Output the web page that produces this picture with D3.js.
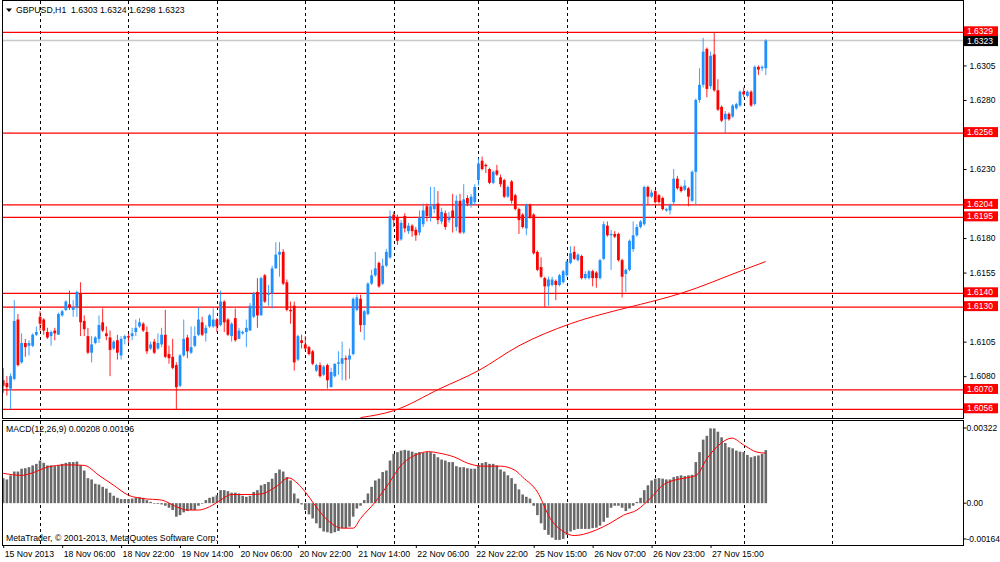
<!DOCTYPE html>
<html>
<head>
<meta charset="utf-8">
<script src="https://cdn.jsdelivr.net/npm/d3@7"></script>
<style>
  body { margin: 0; background: #fff; }
  svg { display: block; }
  text { font-family: "Liberation Sans", Arial, sans-serif; font-size: 8.7px; fill: #000; }
  .scale text { font-size: 8.5px; }
</style>
</head>
<body>
<svg id="chart" width="1000" height="562"></svg>
<script>
// GBPUSD H1, bar 0 = 15 Nov 2013 14:00, last bar = 28 Nov 06:00
const opens = [
  1.6077,1.6075,1.6071,1.6078,1.6121,1.6090,1.6104,1.6102,1.6102,1.6110,
  1.6123,1.6121,1.6112,1.6109,1.6113,1.6110,1.6124,1.6128,1.6132,1.6128,
  1.6130,1.6140,1.6120,1.6109,1.6097,1.6104,1.6107,1.6119,1.6111,1.6108,
  1.6100,1.6106,1.6095,1.6107,1.6109,1.6109,1.6112,1.6116,1.6118,1.6112,
  1.6100,1.6105,1.6100,1.6103,1.6110,1.6096,1.6094,1.6088,1.6073,1.6095,
  1.6108,1.6097,1.6102,1.6110,1.6119,1.6111,1.6116,1.6116,1.6121,1.6117,
  1.6134,1.6121,1.6109,1.6122,1.6107,1.6111,1.6112,1.6113,1.6123,1.6141,
  1.6124,1.6153,1.6139,1.6140,1.6158,1.6168,1.6170,1.6148,1.6128,1.6131,
  1.6092,1.6106,1.6103,1.6101,1.6098,1.6084,1.6088,1.6081,1.6088,1.6072,
  1.6080,1.6089,1.6089,1.6093,1.6092,1.6096,1.6128,1.6136,1.6117,1.6125,
  1.6147,1.6153,1.6162,1.6147,1.6160,1.6166,1.6197,1.6195,1.6179,1.6196,
  1.6185,1.6189,1.6186,1.6184,1.6190,1.6203,1.6195,1.6201,1.6205,1.6192,
  1.6198,1.6193,1.6200,1.6188,1.6207,1.6184,1.6209,1.6204,1.6206,1.6222,
  1.6236,1.6233,1.6230,1.6220,1.6229,1.6224,1.6222,1.6210,1.6221,1.6211,
  1.6201,1.6197,1.6187,1.6204,1.6197,1.6170,1.6159,1.6151,1.6145,1.6146,
  1.6149,1.6146,1.6148,1.6153,1.6162,1.6170,1.6164,1.6167,1.6151,1.6151,
  1.6156,1.6155,1.6151,1.6165,1.6189,1.6182,1.6183,1.6183,1.6164,1.6154,
  1.6157,1.6172,1.6182,1.6188,1.6190,1.6217,1.6210,1.6214,1.6211,1.6209,
  1.6200,1.6200,1.6206,1.6223,1.6217,1.6215,1.6216,1.6207,1.6228,1.6280,
  1.6291,1.6317,1.6290,1.6313,1.6287,1.6275,1.6266,1.6270,1.6268,1.6274,
  1.6276,1.6286,1.6283,1.6286,1.6277,1.6304,1.6303,1.6303
];
const highs = [
  1.6086,1.6080,1.6082,1.6135,1.6125,1.6111,1.6107,1.6106,1.6111,1.6116,
  1.6127,1.6122,1.6115,1.6113,1.6115,1.6126,1.6128,1.6135,1.6142,1.6135,
  1.6142,1.6148,1.6124,1.6115,1.6109,1.6109,1.6124,1.6129,1.6116,1.6113,
  1.6106,1.6110,1.6109,1.6110,1.6111,1.6115,1.6121,1.6122,1.6119,1.6116,
  1.6105,1.6107,1.6111,1.6115,1.6128,1.6102,1.6107,1.6090,1.6096,1.6121,
  1.6110,1.6116,1.6116,1.6130,1.6123,1.6117,1.6125,1.6129,1.6122,1.6142,
  1.6135,1.6122,1.6119,1.6129,1.6115,1.6113,1.6121,1.6133,1.6141,1.6151,
  1.6152,1.6154,1.6146,1.6160,1.6177,1.6177,1.6172,1.6150,1.6134,1.6134,
  1.6110,1.6110,1.6109,1.6102,1.6099,1.6089,1.6090,1.6088,1.6089,1.6086,
  1.6089,1.6098,1.6105,1.6095,1.6100,1.6137,1.6139,1.6139,1.6128,1.6148,
  1.6157,1.6170,1.6163,1.6165,1.6172,1.6200,1.6199,1.6197,1.6193,1.6198,
  1.6191,1.6190,1.6188,1.6200,1.6205,1.6205,1.6217,1.6217,1.6214,1.6202,
  1.6200,1.6199,1.6212,1.6211,1.6212,1.6219,1.6211,1.6212,1.6219,1.6238,
  1.6239,1.6234,1.6231,1.6229,1.6233,1.6226,1.6223,1.6218,1.6222,1.6212,
  1.6202,1.6198,1.6205,1.6205,1.6198,1.6171,1.6166,1.6152,1.6152,1.6152,
  1.6150,1.6154,1.6157,1.6164,1.6174,1.6174,1.6169,1.6168,1.6156,1.6157,
  1.6157,1.6156,1.6165,1.6192,1.6192,1.6186,1.6185,1.6184,1.6165,1.6158,
  1.6179,1.6192,1.6190,1.6193,1.6218,1.6218,1.6215,1.6215,1.6212,1.6210,
  1.6202,1.6205,1.6230,1.6225,1.6218,1.6222,1.6217,1.6229,1.6281,1.6303,
  1.6325,1.6318,1.6315,1.6329,1.6295,1.6276,1.6272,1.6271,1.6277,1.6278,
  1.6287,1.6289,1.6287,1.6287,1.6305,1.6305,1.6305,1.6324
];
const lows = [
  1.6068,1.6066,1.6056,1.6077,1.6087,1.6089,1.6094,1.6095,1.6101,1.6109,
  1.6113,1.6110,1.6107,1.6102,1.6106,1.6110,1.6123,1.6127,1.6128,1.6123,
  1.6123,1.6109,1.6109,1.6096,1.6090,1.6103,1.6104,1.6112,1.6106,1.6080,
  1.6099,1.6092,1.6092,1.6103,1.6104,1.6106,1.6109,1.6115,1.6112,1.6096,
  1.6099,1.6096,1.6099,1.6101,1.6093,1.6089,1.6085,1.6056,1.6072,1.6094,
  1.6093,1.6096,1.6101,1.6109,1.6109,1.6105,1.6115,1.6115,1.6112,1.6116,
  1.6112,1.6109,1.6105,1.6105,1.6107,1.6110,1.6101,1.6113,1.6122,1.6115,
  1.6124,1.6133,1.6131,1.6129,1.6158,1.6152,1.6146,1.6127,1.6118,1.6084,
  1.6091,1.6100,1.6098,1.6095,1.6088,1.6083,1.6079,1.6080,1.6071,1.6072,
  1.6079,1.6081,1.6077,1.6077,1.6078,1.6095,1.6127,1.6112,1.6106,1.6124,
  1.6146,1.6152,1.6144,1.6146,1.6159,1.6165,1.6188,1.6175,1.6178,1.6184,
  1.6183,1.6181,1.6178,1.6182,1.6188,1.6192,1.6192,1.6198,1.6190,1.6190,
  1.6186,1.6191,1.6184,1.6185,1.6183,1.6183,1.6203,1.6202,1.6204,1.6218,
  1.6229,1.6227,1.6219,1.6219,1.6225,1.6217,1.6209,1.6209,1.6205,1.6200,
  1.6183,1.6187,1.6182,1.6194,1.6168,1.6156,1.6151,1.6130,1.6131,1.6145,
  1.6135,1.6145,1.6147,1.6152,1.6161,1.6164,1.6163,1.6150,1.6150,1.6150,
  1.6145,1.6144,1.6150,1.6164,1.6181,1.6157,1.6180,1.6163,1.6137,1.6141,
  1.6156,1.6170,1.6181,1.6187,1.6189,1.6204,1.6209,1.6205,1.6205,1.6200,
  1.6199,1.6197,1.6204,1.6215,1.6213,1.6214,1.6203,1.6206,1.6204,1.6278,
  1.6289,1.6282,1.6288,1.6286,1.6272,1.6264,1.6256,1.6265,1.6267,1.6273,
  1.6275,1.6282,1.6282,1.6275,1.6276,1.6298,1.6301,1.6298
];
const closes = [
  1.6073,1.6072,1.6080,1.6120,1.6088,1.6104,1.6101,1.6104,1.6110,1.6112,
  1.6118,1.6113,1.6108,1.6112,1.6111,1.6125,1.6127,1.6134,1.6130,1.6130,
  1.6141,1.6119,1.6114,1.6097,1.6103,1.6108,1.6117,1.6113,1.6109,1.6099,
  1.6105,1.6097,1.6107,1.6109,1.6108,1.6111,1.6115,1.6119,1.6113,1.6098,
  1.6103,1.6097,1.6104,1.6110,1.6094,1.6093,1.6086,1.6072,1.6095,1.6107,
  1.6098,1.6101,1.6109,1.6121,1.6110,1.6115,1.6124,1.6121,1.6116,1.6134,
  1.6119,1.6110,1.6118,1.6106,1.6113,1.6112,1.6115,1.6131,1.6140,1.6124,
  1.6151,1.6134,1.6140,1.6158,1.6168,1.6170,1.6147,1.6128,1.6127,1.6090,
  1.6109,1.6104,1.6100,1.6096,1.6089,1.6088,1.6080,1.6087,1.6077,1.6083,
  1.6089,1.6090,1.6093,1.6092,1.6095,1.6136,1.6137,1.6117,1.6127,1.6147,
  1.6153,1.6158,1.6145,1.6160,1.6170,1.6196,1.6193,1.6178,1.6191,1.6187,
  1.6189,1.6185,1.6182,1.6195,1.6200,1.6196,1.6203,1.6204,1.6193,1.6199,
  1.6188,1.6195,1.6195,1.6207,1.6184,1.6208,1.6205,1.6210,1.6217,1.6234,
  1.6230,1.6232,1.6220,1.6228,1.6226,1.6219,1.6210,1.6217,1.6207,1.6201,
  1.6193,1.6188,1.6204,1.6195,1.6169,1.6157,1.6152,1.6145,1.6150,1.6150,
  1.6146,1.6153,1.6156,1.6163,1.6169,1.6165,1.6168,1.6151,1.6154,1.6156,
  1.6151,1.6151,1.6164,1.6190,1.6182,1.6183,1.6181,1.6164,1.6152,1.6157,
  1.6178,1.6182,1.6188,1.6192,1.6217,1.6210,1.6213,1.6206,1.6206,1.6201,
  1.6201,1.6204,1.6223,1.6216,1.6214,1.6218,1.6210,1.6228,1.6280,1.6291,
  1.6315,1.6288,1.6312,1.6287,1.6273,1.6265,1.6270,1.6266,1.6276,1.6277,
  1.6286,1.6284,1.6286,1.6276,1.6304,1.6302,1.6304,1.6323
];

// MACD(12,26,9) main line (histogram) per bar
const macdMain = [
  0.00098,0.00093,0.00109,0.00124,0.00124,0.00135,0.00137,0.00141,0.00148,0.00154,
  0.00167,0.00158,0.00148,0.00148,0.00145,0.00148,0.00154,0.00158,0.00161,0.00161,
  0.00163,0.00148,0.00128,0.00098,0.00093,0.00076,0.00073,0.00064,0.00057,0.00041,
  0.00029,0.00021,0.00016,0.00016,0.00016,0.00018,0.00021,0.00023,0.00021,0.00012,
  0.00005,-0.00001,-0.00003,-0.00005,-0.00010,-0.00018,-0.00027,-0.00053,-0.00047,-0.00036,
  -0.00031,-0.00027,-0.00027,-0.00010,-0.00001,0.00012,0.00021,0.00025,0.00031,0.00051,
  0.00051,0.00047,0.00041,0.00041,0.00038,0.00029,0.00025,0.00029,0.00044,0.00051,
  0.00070,0.00075,0.00083,0.00096,0.00118,0.00132,0.00124,0.00102,0.00089,0.00038,
  0.00018,-0.00005,-0.00027,-0.00044,-0.00060,-0.00079,-0.00098,-0.00111,-0.00114,-0.00118,
  -0.00114,-0.00109,-0.00098,-0.00098,-0.00092,-0.00053,-0.00021,-0.00010,0.00012,0.00038,
  0.00064,0.00089,0.00096,0.00122,0.00128,0.00167,0.00193,0.00200,0.00206,0.00209,
  0.00206,0.00202,0.00197,0.00200,0.00197,0.00200,0.00200,0.00193,0.00180,0.00171,
  0.00167,0.00161,0.00161,0.00145,0.00141,0.00141,0.00137,0.00135,0.00135,0.00148,
  0.00157,0.00161,0.00154,0.00154,0.00148,0.00132,0.00124,0.00109,0.00098,0.00076,
  0.00054,0.00034,0.00025,0.00018,-0.00010,-0.00047,-0.00079,-0.00105,-0.00124,-0.00135,
  -0.00144,-0.00144,-0.00140,-0.00124,-0.00111,-0.00105,-0.00101,-0.00101,-0.00101,-0.00101,
  -0.00098,-0.00096,-0.00088,-0.00073,-0.00057,-0.00018,-0.00010,-0.00010,-0.00018,-0.00031,
  -0.00021,-0.00010,0.00005,0.00021,0.00051,0.00070,0.00089,0.00096,0.00098,0.00096,
  0.00093,0.00093,0.00102,0.00106,0.00109,0.00106,0.00109,0.00111,0.00161,0.00200,
  0.00249,0.00264,0.00293,0.00293,0.00280,0.00258,0.00236,0.00219,0.00215,0.00206,
  0.00202,0.00200,0.00189,0.00180,0.00184,0.00187,0.00193,0.00208
];

// signal line, read at these bar positions
const signalBars = [0,5,8,12,17,22,26,30,34,38,43,47,50,53,56,59,62,67,70,74,77.5,80,82,84.6,88,92,95,97,
  101,104.6,108,112,115.5,118,122.6,126,130,135,139,141,145,148.5,152,155,157.5,161,164.7,168.4,172,175.6,
  179,183,186.5,188.3,191,194.6,197.8,201,204.6,207];
const signalValues = [0.00117,0.00109,0.00119,0.00141,0.00150,0.00148,0.00109,0.00070,0.00031,0.00018,0.00012,
  -0.00014,-0.00027,-0.00027,-0.00014,0.00012,0.00034,0.00034,0.00036,0.00064,0.00099,0.00076,0.00044,-0.00008,
  -0.00066,-0.00098,-0.00098,-0.00060,0.00005,0.00076,0.00148,0.00189,0.00202,0.00197,0.00180,0.00157,0.00145,
  0.00145,0.00128,0.00102,0.00044,-0.00060,-0.00111,-0.00127,-0.00122,-0.00105,-0.00079,-0.00047,-0.00027,
  0.00018,0.00070,0.00093,0.00102,0.00111,0.00174,0.00232,0.00255,0.00228,0.00200,0.00196];

// moving average on the price window
const maBars = [97, 106, 118.6, 129, 140, 154, 167, 173, 184, 201, 207];
const maValues = [1.6050, 1.6055, 1.6071, 1.6084, 1.6102, 1.6118, 1.6128, 1.6132, 1.6140, 1.6157, 1.6163];

const levelPrices = [1.6329, 1.6256, 1.6204, 1.6195, 1.6140, 1.6130, 1.6070, 1.6056];
const bidPrice = 1.6323;

const timeLabels = ["15 Nov 2013", "18 Nov 06:00", "18 Nov 22:00", "19 Nov 14:00", "20 Nov 06:00",
  "20 Nov 22:00", "21 Nov 14:00", "22 Nov 06:00", "22 Nov 22:00", "25 Nov 15:00", "26 Nov 07:00",
  "26 Nov 23:00", "27 Nov 15:00"];
const labelBars = [0, 16, 32, 48, 64, 80, 96, 112, 128, 144, 160, 176, 192];
const gridBars = [10, 34, 58, 82, 106, 129, 153, 177, 201, 225];   // midnights
const priceTicks = [1.6055, 1.6080, 1.6105, 1.6130, 1.6155, 1.6180, 1.6205, 1.6230, 1.6255, 1.6280, 1.6305, 1.6330];
const macdTicks = [0.00322, 0, -0.00164];

const bull = "#1e90ff", bear = "#ff0000";
const left = 2, right = 963, mainTop = 1, mainBottom = 418, macdTop = 421, macdBottom = 545;

const svg = d3.select("#chart");
const x = d3.scaleLinear().domain([0, 207]).range([3.2, 765.8]);
const y = d3.scaleLinear().domain([1.6056, 1.6329]).range([409.3, 32.3]);
const ym = d3.scaleLinear().domain([-0.00164, 0.00322]).range([macdBottom, macdTop]);

svg.append("rect").attr("width", 1000).attr("height", 562).attr("fill", "#fff");

const defs = svg.append("defs");
defs.append("clipPath").attr("id", "mainClip").append("rect")
  .attr("x", left).attr("y", mainTop).attr("width", right - left).attr("height", mainBottom - mainTop);
defs.append("clipPath").attr("id", "macdClip").append("rect")
  .attr("x", left).attr("y", macdTop).attr("width", right - left).attr("height", macdBottom - macdTop);

// vertical dashed grid, both panels
const grid = svg.append("g").attr("stroke", "#000").attr("stroke-dasharray", "3,3").attr("shape-rendering", "crispEdges");
[[mainTop, mainBottom], [macdTop, macdBottom]].forEach(([t, b]) => {
  grid.append("g").selectAll("line").data(gridBars).join("line")
    .attr("x1", d => Math.round(x(d)) + 0.5).attr("x2", d => Math.round(x(d)) + 0.5)
    .attr("y1", t).attr("y2", b);
});

// horizontal levels + bid line
const main = svg.append("g").attr("clip-path", "url(#mainClip)");
main.append("line")
  .attr("x1", left).attr("x2", right).attr("y1", y(bidPrice)).attr("y2", y(bidPrice))
  .attr("stroke", "#c8c8c8").attr("stroke-width", 1.5);
main.append("g").selectAll("line").data(levelPrices).join("line")
  .attr("x1", left).attr("x2", right).attr("y1", d => y(d)).attr("y2", d => y(d))
  .attr("stroke", bear).attr("stroke-width", 1.3);

// moving average
main.append("path")
  .datum(maBars.map((b, k) => [b, maValues[k]]))
  .attr("fill", "none").attr("stroke", bear).attr("stroke-width", 1)
  .attr("d", d3.line().x(d => x(d[0])).y(d => y(d[1])).curve(d3.curveMonotoneX));

// candles
const bars = d3.range(opens.length);
const col = i => closes[i] >= opens[i] ? bull : bear;
main.append("g").selectAll("line").data(bars).join("line")
  .attr("x1", i => x(i)).attr("x2", i => x(i))
  .attr("y1", i => y(highs[i])).attr("y2", i => y(lows[i]))
  .attr("stroke", col).attr("stroke-width", 1).attr("stroke-opacity", 0.85);
main.append("g").selectAll("rect").data(bars).join("rect")
  .attr("x", i => x(i) - 1.4).attr("width", 2.8)
  .attr("y", i => y(Math.max(opens[i], closes[i])))
  .attr("height", i => Math.max(1, Math.abs(y(opens[i]) - y(closes[i]))))
  .attr("fill", col);

// MACD panel
const macd = svg.append("g").attr("clip-path", "url(#macdClip)");
macd.append("g").selectAll("rect").data(bars).join("rect")
  .attr("x", i => x(i) - 1.3).attr("width", 2.6)
  .attr("y", i => Math.min(ym(0), ym(macdMain[i])))
  .attr("height", i => Math.max(0.6, Math.abs(ym(macdMain[i]) - ym(0))))
  .attr("fill", "#696969");
macd.append("path")
  .datum(signalBars.map((b, k) => [b, signalValues[k]]))
  .attr("fill", "none").attr("stroke", bear).attr("stroke-width", 1)
  .attr("d", d3.line().x(d => x(d[0])).y(d => ym(d[1])).curve(d3.curveMonotoneX));

// frames
const frames = svg.append("g").attr("fill", "none").attr("stroke", "#000").attr("shape-rendering", "crispEdges");
frames.append("rect").attr("x", left + 0.5).attr("y", mainTop - 0.5).attr("width", right - left).attr("height", mainBottom - mainTop + 0.5);
frames.append("rect").attr("x", left + 0.5).attr("y", macdTop - 0.5).attr("width", right - left).attr("height", macdBottom - macdTop + 0.5);

// price axis; labels under the level tags stay hidden, as on the terminal
const tagPrices = levelPrices.concat([bidPrice]);
const priceAxis = svg.append("g").attr("class", "scale").attr("transform", `translate(${right + 0.5},0)`)
  .call(d3.axisRight(y).tickValues(priceTicks).tickSize(3).tickPadding(3).tickFormat(d3.format(".4f")));
priceAxis.select(".domain").remove();
priceAxis.selectAll("text").attr("dy", "0.33em");
priceAxis.selectAll(".tick")
  .filter(d => tagPrices.some(p => Math.abs(y(p) - y(d)) < 9))
  .select("text").remove();

// MACD scale: max/min labels sit inside the window
const macdLabelY = [ym(0.00322) + 7, ym(0), ym(-0.00164) - 6];
const macdAxis = svg.append("g").attr("class", "scale");
macdAxis.selectAll("line").data(macdTicks).join("line")
  .attr("x1", right + 0.5).attr("x2", right + 3.5)
  .attr("y1", (d, k) => macdLabelY[k]).attr("y2", (d, k) => macdLabelY[k])
  .attr("stroke", "#000");
macdAxis.selectAll("text").data(macdTicks).join("text")
  .attr("x", right + 3.5).attr("y", (d, k) => macdLabelY[k] + 3)
  .text(d => d === 0 ? "0.00" : d3.format(".5f")(d).replace("\u2212", "-"));

// time axis
const timeAxis = svg.append("g").attr("transform", `translate(0,${macdBottom})`)
  .call(d3.axisBottom(x).tickValues(labelBars).tickSize(3).tickFormat((d, k) => timeLabels[k]));
timeAxis.select(".domain").remove();
timeAxis.selectAll("text").attr("text-anchor", "start").attr("x", 1).attr("y", 6);

// level tags on the price scale
const tags = svg.append("g").attr("class", "scale");
const tagData = levelPrices.map(p => ({ p, fill: bear, dy: -1 })).concat([{ p: bidPrice, fill: "#000", dy: 0.5 }]);
tags.selectAll("rect").data(tagData).join("rect")
  .attr("x", right + 1).attr("y", d => y(d.p) + d.dy - 5).attr("width", 34).attr("height", 10)
  .attr("fill", d => d.fill);
tags.selectAll("text").data(tagData).join("text")
  .attr("x", right + 4).attr("y", d => y(d.p) + d.dy + 3)
  .style("fill", "#fff").text(d => d.p.toFixed(4));

// captions
svg.append("path").attr("d", "M6,8.5 L12,8.5 L9,12 Z").attr("fill", "#000");
svg.append("text").attr("x", 16).attr("y", 13).style("white-space", "pre")
  .text("GBPUSD,H1  1.6303 1.6324 1.6298 1.6323");
svg.append("text").attr("x", 6).attr("y", 432)
  .text(`MACD(12,26,9) ${macdMain[macdMain.length - 1].toFixed(5)} ${signalValues[signalValues.length - 1].toFixed(5)}`);
svg.append("text").attr("x", 6).attr("y", 541)
  .text("MetaTrader, \u00a9 2001-2013, MetaQuotes Software Corp.");
</script>
</body>
</html>
